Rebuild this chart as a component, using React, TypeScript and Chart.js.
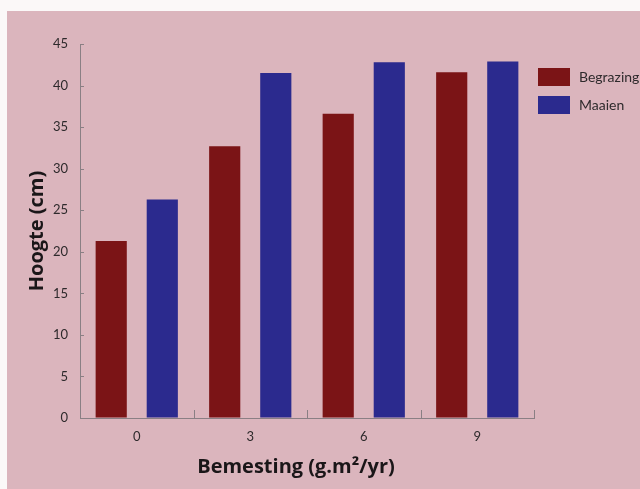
import React, { useEffect, useRef } from "react";
import { Chart, registerables } from "chart.js";

Chart.register(...registerables);

const categories = ["0", "3", "6", "9"];
const begrazing = [21.3, 32.7, 36.6, 41.6];
const maaien = [26.3, 41.5, 42.8, 42.9];
const seriesNames = ["Begrazing", "Maaien"];
const yTicks = [0, 5, 10, 15, 20, 25, 30, 35, 40, 45];

const RED = "#7b1416";
const BLUE = "#2b2a8e";
const BG = "#dbb5bd";
const AXIS = "#8a7f84";
const FONT = "Lato, 'Open Sans', sans-serif";
const TITLE_FONT = "'Open Sans', Lato, sans-serif";

const bgPlugin = {
  id: "bgFill",
  beforeDraw(chart: any) {
    const { ctx, width, height } = chart;
    ctx.save();
    ctx.fillStyle = BG;
    ctx.fillRect(0, 0, width, height);
    ctx.restore();
  },
};

const innerTicksPlugin = {
  id: "innerTicks",
  afterDraw(chart: any) {
    const x = chart.scales.x;
    const y = chart.scales.y;
    const ctx = chart.ctx;
    const step = x.getPixelForValue(1) - x.getPixelForValue(0);
    const base = y.getPixelForValue(0);
    ctx.save();
    ctx.strokeStyle = AXIS;
    ctx.lineWidth = 1;
    for (let i = 0; i < categories.length; i++) {
      const px = Math.round(x.getPixelForValue(i) + step / 2) + 0.5;
      ctx.beginPath();
      ctx.moveTo(px, base);
      ctx.lineTo(px, base - 8);
      ctx.stroke();
    }
    const left = chart.chartArea.left;
    yTicks.forEach((v) => {
      const py = Math.round(y.getPixelForValue(v)) + 0.5;
      ctx.beginPath();
      ctx.moveTo(left, py);
      ctx.lineTo(left + 4, py);
      ctx.stroke();
    });
    ctx.restore();
  },
};

const xTitlePlugin = {
  id: "xTitle",
  afterDraw(chart: any) {
    const ctx = chart.ctx;
    const area = chart.chartArea;
    const cx = (area.left + area.right) / 2 - 11;
    ctx.save();
    ctx.font = "bold 20px " + TITLE_FONT;
    ctx.fillStyle = "#1a1618";
    ctx.textAlign = "center";
    ctx.textBaseline = "middle";
    ctx.fillText("Bemesting (g.m²/yr)", cx, area.bottom + 49);
    ctx.restore();
  },
};

const legendPlugin = {
  id: "customLegend",
  afterDraw(chart: any) {
    const ctx = chart.ctx;
    const area = chart.chartArea;
    const left = area.right + 4;
    let top = 57;
    ctx.save();
    ctx.font = "14px " + FONT;
    ctx.textBaseline = "middle";
    chart.data.datasets.forEach((ds: any) => {
      ctx.fillStyle = ds.backgroundColor;
      ctx.fillRect(left, top, 32, 18);
      ctx.fillStyle = "#2e2a2c";
      ctx.fillText(ds.label, left + 41, top + 9);
      top += 28;
    });
    ctx.restore();
  },
};

export default function App() {
  const ref = useRef<HTMLCanvasElement>(null);
  useEffect(() => {
    if (!ref.current) return;
    const chart = new Chart(ref.current, {
      type: "bar",
      data: {
        labels: categories,
        datasets: [
          { label: seriesNames[0], data: begrazing, backgroundColor: RED, categoryPercentage: 0.9, barPercentage: 0.61 },
          { label: seriesNames[1], data: maaien, backgroundColor: BLUE, categoryPercentage: 0.9, barPercentage: 0.61 },
        ],
      },
      options: {
        responsive: false,
        animation: false,
        layout: { padding: { top: 33, right: 106, bottom: 0, left: 18 } },
        plugins: { legend: { display: false }, tooltip: { enabled: false } },
        scales: {
          x: {
            grid: { display: false, drawTicks: false },
            border: { display: true, color: AXIS, width: 1 },
            ticks: { color: "#2e2a2c", font: { family: FONT, size: 13 }, padding: 11 },
            afterFit: (axis: any) => {
              axis.height = 71;
            },
            title: { display: false },
          },
          y: {
            min: 0,
            max: 45,
            afterBuildTicks: (axis: any) => {
              axis.ticks = yTicks.map((v) => ({ value: v }));
            },
            afterFit: (axis: any) => {
              axis.width = 55;
            },
            grid: { drawOnChartArea: false, drawTicks: false },
            border: { display: true, color: AXIS, width: 1 },
            ticks: { color: "#2e2a2c", font: { family: FONT, size: 13 }, padding: 12 },
            title: {
              display: true,
              text: "Hoogte (cm)",
              color: "#1a1618",
              font: { family: TITLE_FONT, size: 20, weight: "bold" },
              padding: { top: 0, bottom: 0 },
            },
          },
        },
      },
      plugins: [bgPlugin, innerTicksPlugin, xTitlePlugin, legendPlugin],
    });
    return () => chart.destroy();
  }, []);
  return (
    <div style={{ position: "absolute", left: 0, top: 0, width: 640, height: 489, background: "#fbf8f8" }}>
      <canvas ref={ref} width={633} height={478} style={{ position: "absolute", left: 7, top: 11, width: 633, height: 478 }} />
    </div>
  );
}
